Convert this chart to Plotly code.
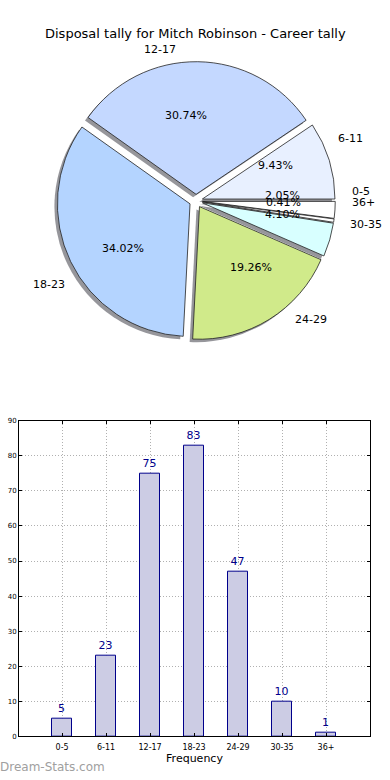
import math
import plotly.graph_objects as go

# ---- data ----
categories = ['0-5', '6-11', '12-17', '18-23', '24-29', '30-35', '36+']
counts = [5, 23, 75, 83, 47, 10, 1]
pie_colors = ['#ffffff', '#e8f0ff', '#c4d8ff', '#b4d4ff', '#d0ea8a', '#d8ffff', '#ffffff']
y_ticks = [0, 10, 20, 30, 40, 50, 60, 70, 80, 90]
title_text = 'Disposal tally for Mitch Robinson - Career tally'

# ---- layout constants (pixels) ----
W, H = 390, 780
PIE_CX, PIE_CY, PIE_R = 196, 199, 134
PULL = 0.05
SHADOW_DX, SHADOW_DY = -3, 3
FONT = 'DejaVu Sans'


def px_x(x):
    return x / W


def px_y(y):
    return 1 - y / H


def pie_domain(cx, cy):
    half = PIE_R * (1 + PULL)
    return dict(x=[px_x(cx - half), px_x(cx + half)],
                y=[px_y(cy + half), px_y(cy - half)])


total = sum(counts)
fig = go.Figure()

# shadow
fig.add_trace(go.Pie(
    labels=categories, values=counts, sort=False, direction='counterclockwise',
    rotation=90, pull=[PULL] * len(counts), textinfo='none', hoverinfo='skip',
    marker=dict(colors=['rgb(150,150,155)'] * len(counts), line=dict(width=0)),
    domain=pie_domain(PIE_CX + SHADOW_DX, PIE_CY + SHADOW_DY), showlegend=False,
))
# pie
fig.add_trace(go.Pie(
    labels=categories, values=counts, sort=False, direction='counterclockwise',
    rotation=90, pull=[PULL] * len(counts), textinfo='none',
    marker=dict(colors=pie_colors, line=dict(color='#222222', width=0.8)),
    domain=pie_domain(PIE_CX, PIE_CY), showlegend=False,
))

annotations = []
cum = 0
for cat, v in zip(categories, counts):
    frac = v / total
    theta = 2 * math.pi * (cum + frac / 2)
    cum += frac
    c, s = math.cos(theta), math.sin(theta)
    # percentage
    d = (0.6 + PULL) * PIE_R
    annotations.append(dict(
        x=px_x(PIE_CX + d * c), y=px_y(PIE_CY - d * s), xref='paper', yref='paper',
        text=f'{frac * 100:.2f}%', showarrow=False, xanchor='center', yanchor='middle',
        font=dict(family=FONT, size=11, color='#000000')))
    # label
    d = (1.1 + PULL) * PIE_R
    annotations.append(dict(
        x=px_x(PIE_CX + d * c), y=px_y(PIE_CY - d * s), xref='paper', yref='paper',
        text=cat, showarrow=False, xanchor='left' if c > 0 else 'right', yanchor='middle',
        font=dict(family=FONT, size=11, color='#000000')))

annotations.append(dict(
    x=px_x(195), y=px_y(30), xref='paper', yref='paper', text=title_text,
    showarrow=False, xanchor='center', yanchor='middle',
    font=dict(family=FONT, size=13, color='#000000')))
annotations.append(dict(
    x=0, y=px_y(771), xref='paper', yref='paper', text='Dream-Stats.com',
    showarrow=False, xanchor='left', yanchor='middle', xshift=-2,
    font=dict(family=FONT, size=12, color='#a0a0a0')))

# bar chart
xs = list(range(len(categories)))
fig.add_trace(go.Bar(
    x=xs, y=counts, width=0.44, text=[str(v) for v in counts], textposition='outside',
    constraintext='none', cliponaxis=False,
    textfont=dict(family=FONT, size=11, color='#00008b'),
    marker=dict(color='rgb(204,204,228)', line=dict(color='#00008b', width=1)),
    hoverinfo='skip', showlegend=False,
))

grid = dict(showgrid=True, gridcolor='#b0b0b0', griddash='1px,2px', gridwidth=1,
            showline=True, linecolor='#000', linewidth=1, mirror='ticks',
            ticks='inside', ticklen=3, tickcolor='#000', zeroline=False)

fig.update_layout(
    width=W, height=H, margin=dict(l=0, r=0, t=0, b=0),
    paper_bgcolor='white', plot_bgcolor='white',
    annotations=annotations,
    font=dict(family=FONT),
    xaxis=dict(domain=[px_x(19), px_x(370)], range=[-0.98, 7], tickvals=xs,
               ticktext=categories, tickfont=dict(size=8, color='#000'),
               ticklabelstandoff=3,
               title=dict(text='Frequency', font=dict(size=11, color='#000'), standoff=3),
               **grid),
    yaxis=dict(domain=[px_y(740), px_y(421)], range=[0, 90], tickvals=y_ticks,
               tickfont=dict(size=7, color='#000'), **grid),
    bargap=0,
)

fig.write_html('out.html', config={'displayModeBar': False},
               post_script="document.body.style.margin='0';")
